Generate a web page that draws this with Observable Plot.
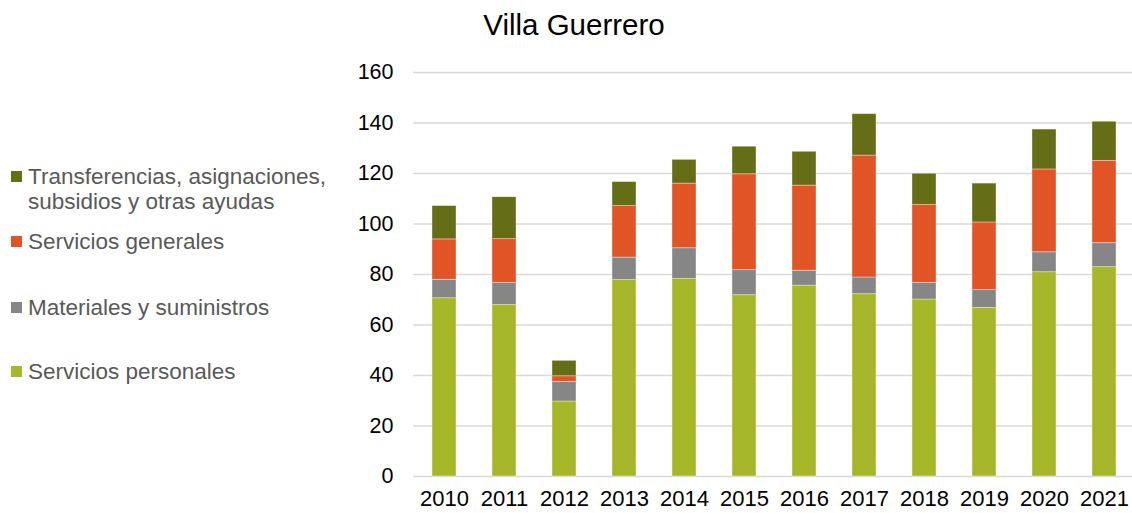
<!DOCTYPE html>
<html>
<head>
<meta charset="utf-8">
<script src="https://cdn.jsdelivr.net/npm/d3@7"></script>
<script src="https://cdn.jsdelivr.net/npm/@observablehq/plot@0.6"></script>
<style>
  html, body { margin: 0; padding: 0; background: #fff; }
  #wrap { position: relative; width: 1132px; height: 513px; font-family: "Liberation Sans", Arial, sans-serif; }
  #title { position: absolute; left: 0; width: 1148px; top: 8px; text-align: center; font-size: 29.5px; color: #000; }
  #legend { position: absolute; left: 0; top: 0; width: 400px; height: 513px; }
  .item { position: absolute; left: 11px; font-size: 22.5px; color: #595959; line-height: 25px; }
  .sw { position: absolute; left: 0; top: 7px; width: 11px; height: 11px; }
  .lab { position: absolute; left: 17px; top: 0; white-space: nowrap; }
  #chart { position: absolute; left: 0; top: 0; }
</style>
</head>
<body>
<div id="wrap">
  <div id="chart"></div>
  <div id="title">Villa Guerrero</div>
  <div id="legend"></div>
</div>
<script>
const years = ["2010","2011","2012","2013","2014","2015","2016","2017","2018","2019","2020","2021"];
const series = ["Servicios personales", "Materiales y suministros", "Servicios generales", "Transferencias, asignaciones, subsidios y otras ayudas"];
const colors = ["#A7B72A", "#868686", "#E15426", "#656E17"];
const serviciosPersonales = [70.6, 67.9, 29.7, 77.8, 78.2, 71.8, 75.6, 72.2, 70.1, 66.8, 80.9, 82.9];
const materialesSuministros = [7.3, 8.7, 7.7, 8.9, 12.2, 9.9, 5.9, 6.6, 6.5, 7.0, 7.9, 9.5];
const serviciosGenerales = [16.0, 17.4, 2.3, 20.4, 25.6, 38.0, 33.7, 48.3, 30.9, 26.8, 32.8, 32.6];
const transferencias = [13.2, 16.6, 6.1, 9.5, 9.4, 10.9, 13.4, 16.4, 12.4, 15.4, 15.8, 15.5];
const yTicks = [0, 20, 40, 60, 80, 100, 120, 140, 160];

const values = [serviciosPersonales, materialesSuministros, serviciosGenerales, transferencias];
const data = [];
series.forEach((s, i) => years.forEach((y, j) => data.push({year: y, serie: s, value: values[i][j]})));

const chart = Plot.plot({
  width: 1132,
  height: 513,
  marginLeft: 413,
  marginRight: 0,
  marginTop: 72,
  marginBottom: 37,
  style: { fontFamily: "Liberation Sans, Arial, sans-serif", fontSize: "21px", color: "#000", background: "transparent", overflow: "visible" },
  x: { domain: years, range: [413, 1135], paddingInner: 0.6, paddingOuter: 0.3, label: null },
  y: { domain: [0, 160], ticks: yTicks, label: null },
  color: { domain: series, range: colors },
  marks: [
    Plot.ruleY(yTicks, { stroke: "#d9d9d9", strokeWidth: 1.5 }),
    Plot.barY(data, { x: "year", y: "value", fill: "serie", order: series, stroke: "#ffffff", strokeOpacity: 0.45, strokeWidth: 0.8 }),
    Plot.axisY({ ticks: yTicks, tickSize: 0, tickPadding: 20, fontSize: 21.5, fill: "#000" }),
    Plot.axisX({ tickSize: 0, tickPadding: 14, fontSize: 22, fill: "#000" })
  ]
});
document.getElementById("chart").appendChild(chart);

const legendRows = [
  { serie: series[3], top: 164, lines: ["Transferencias, asignaciones,", "subsidios y otras ayudas"] },
  { serie: series[2], top: 229, lines: ["Servicios generales"] },
  { serie: series[1], top: 295, lines: ["Materiales y suministros"] },
  { serie: series[0], top: 359, lines: ["Servicios personales"] }
];
const legend = document.getElementById("legend");
legendRows.forEach(r => {
  const it = document.createElement("div");
  it.className = "item";
  it.style.top = r.top + "px";
  const sw = document.createElement("div");
  sw.className = "sw";
  sw.style.background = colors[series.indexOf(r.serie)];
  const lab = document.createElement("div");
  lab.className = "lab";
  lab.innerHTML = r.lines.join("<br>");
  it.appendChild(sw); it.appendChild(lab);
  legend.appendChild(it);
});
</script>
</body>
</html>
